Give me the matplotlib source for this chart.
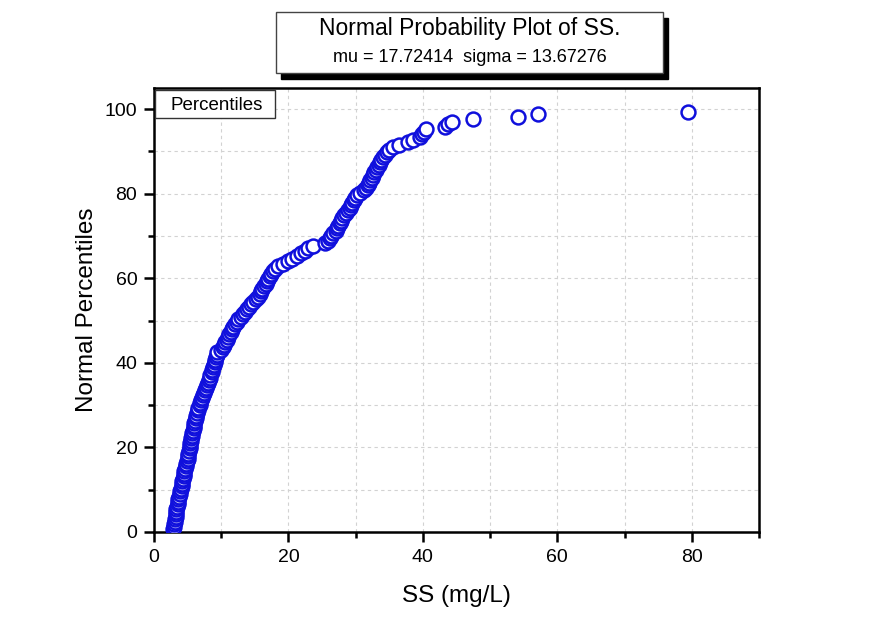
import numpy as np
import matplotlib
matplotlib.use('Agg')
import matplotlib.pyplot as plt
from matplotlib.patches import Rectangle
from matplotlib.ticker import MultipleLocator

plt.rcParams['font.family'] = ['Liberation Sans', 'DejaVu Sans']

# SS values (mg/L), sorted
ss = [2.9, 3.0, 3.0, 3.1, 3.1, 3.2, 3.2, 3.3, 3.3, 3.4, 3.5, 3.5, 3.6, 3.7, 3.8, 3.9, 4.0,
      4.1, 4.2, 4.2, 4.3, 4.4, 4.5, 4.5, 4.6, 4.7, 4.8, 4.9, 5.0, 5.0, 5.1, 5.2, 5.3,
      5.4, 5.4, 5.5, 5.5, 5.6, 5.7, 5.8, 5.9, 6.0, 6.0, 6.1, 6.2, 6.3, 6.4, 6.5, 6.6, 6.8,
      6.9, 7.0, 7.2, 7.3, 7.5, 7.6, 7.8, 7.9, 8.0, 8.2, 8.3, 8.4, 8.6, 8.7, 8.8, 8.9, 9.0,
      9.1, 9.2, 9.3, 9.4, 10.0, 10.2, 10.4, 10.6, 10.9, 11.0, 11.2, 11.4, 11.6, 11.8, 12.0, 12.3, 12.5,
      12.9, 13.2, 13.5, 13.9, 14.2, 14.5, 14.8, 15.1, 15.4, 15.7, 15.9, 16.1, 16.4, 16.6, 16.8, 17.0,
      17.2, 17.4, 17.7, 18.0, 18.5, 19.2, 19.9, 20.6, 21.3, 21.9, 22.4, 22.9, 23.6,
      25.5, 25.9, 26.2, 26.4, 26.7, 27.0, 27.2, 27.4, 27.6, 27.8, 28.0, 28.3, 28.6, 28.9, 29.1,
      29.3, 29.5, 29.7, 29.9, 30.2, 30.7,
      31.2, 31.5, 31.8, 32.0, 32.2, 32.4, 32.6, 32.8, 33.0, 33.2, 33.4, 33.6, 33.8, 34.0, 34.3, 34.7,
      35.0, 35.5, 36.4, 37.8, 38.5, 39.5, 39.9, 40.1,
      40.4, 43.3, 43.8, 44.4, 47.4, 54.2, 57.1, 79.4]

# plotting positions (percent) for the sorted sample
n = len(ss)
pct = [100.0 * (i + 1) / (n + 1) for i in range(n)]

title = "Normal Probability Plot of SS."
subtitle = "mu = 17.72414  sigma = 13.67276"

fig = plt.figure(figsize=(8.86, 6.2), dpi=100)
W, H = 886, 620
ax = fig.add_axes([154 / W, 1 - 532 / H, (759 - 154) / W, (532 - 88) / H])

ax.plot(ss, pct, 'o', ms=10, mfc='white', mec='#1010dc', mew=1.8, zorder=3)

ax.set_xlim(0, 90)
ax.set_ylim(0, 105)
ax.xaxis.set_major_locator(MultipleLocator(20))
ax.xaxis.set_minor_locator(MultipleLocator(10))
ax.yaxis.set_major_locator(MultipleLocator(20))
ax.yaxis.set_minor_locator(MultipleLocator(10))
ax.grid(True, which='both', color='#d2d2d2', linestyle=(0, (3, 3)), linewidth=0.8)
ax.set_axisbelow(True)
ax.tick_params(which='both', direction='out', top=False, right=False, width=1.8)
ax.tick_params(which='major', length=7, labelsize=14, pad=5)
ax.tick_params(which='minor', length=4)
for s in ax.spines.values():
    s.set_linewidth(1.8)

ax.set_xlabel("SS (mg/L)", fontsize=17.5, labelpad=14)
ax.set_ylabel("Normal Percentiles", fontsize=17.5, labelpad=5)

# legend-like text box in the upper left corner
fig.patches.append(Rectangle((155 / W, 1 - 118 / H), 120 / W, 28 / H, transform=fig.transFigure,
                             fc='white', ec='#333333', lw=1, zorder=5))
fig.text(170 / W, 1 - 105 / H, "Percentiles", fontsize=13.5, ha='left', va='center', zorder=6)

# title box with drop shadow
bx0, by0, bx1, by1 = 276, 12, 663, 73
fig.patches.append(Rectangle(((bx0 + 5) / W, 1 - (by1 + 6) / H), (bx1 - bx0) / W, (by1 - by0) / H,
                             transform=fig.transFigure, fc='black', ec='black', zorder=1))
fig.patches.append(Rectangle((bx0 / W, 1 - by1 / H), (bx1 - bx0) / W, (by1 - by0) / H,
                             transform=fig.transFigure, fc='white', ec='#444444', lw=1, zorder=2))
fig.text((bx0 + bx1) / 2 / W, 1 - 28 / H, title, fontsize=16.5, ha='center', va='center', zorder=3)
fig.text((bx0 + bx1) / 2 / W, 1 - 58 / H, subtitle, fontsize=13, ha='center', va='center', zorder=3)

fig.savefig('out.png', dpi=100)
